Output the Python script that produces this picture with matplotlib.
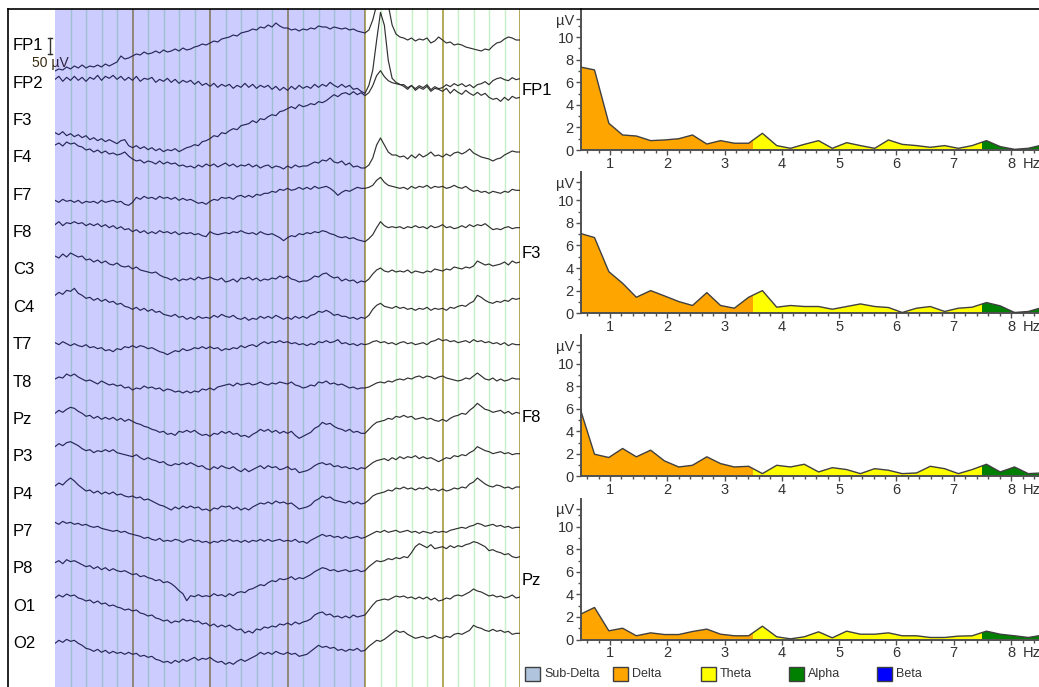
import numpy as np
import matplotlib
matplotlib.use("Agg")
import matplotlib.pyplot as plt
from matplotlib.lines import Line2D
from matplotlib.patches import Rectangle
from matplotlib.ticker import MultipleLocator
from matplotlib.transforms import blended_transform_factory

plt.rcParams['font.family'] = ['Liberation Sans', 'DejaVu Sans']

# ---------------------------------------------------------------------------
# EEG page: 6 s per page, 20 samples/s, values in µV relative to each baseline
# ---------------------------------------------------------------------------
channels = ['FP1', 'FP2', 'F3', 'F4', 'F7', 'F8', 'C3', 'C4', 'T7', 'T8',
            'Pz', 'P3', 'P4', 'P7', 'P8', 'O1', 'O2']

eeg_fp1 = [-75, -69, -72, -63, -69, -60, -66, -57, -66, -60, -63, -57, -63, -54, -60, -54, -48, -30, -39, -36,
           -30, -24, -27, -18, -24, -21, -15, -21, -12, -18, -15, -9, -15, -6, -12, -9, -3, 0, 6, 3,
           9, 15, 12, 21, 24, 27, 33, 30, 39, 42, 45, 51, 48, 57, 54, 63, 57, 69, 60, 54,
           54, 48, 51, 45, 51, 48, 54, 51, 60, 57, 57, 51, 57, 54, 51, 54, 48, 51, 45, 42,
           39, 48, 78, 123, 213, 198, 123, 63, 36, 27, 24, 18, 24, 15, 21, 18, 24, 9, 15, 27,
           18, 9, 12, 3, 6, 3, -3, -6, -9, -12, -15, -9, -12, 0, 9, 12, 21, 27, 24, 18, 18]
eeg_fp2 = [12, 21, 6, 18, 9, 21, 9, 18, 6, 18, 12, 24, 9, 21, 15, 24, 12, 21, 9, 18,
           9, 21, 6, 15, 12, 18, 3, 12, 6, 15, 3, 12, 0, 9, 3, 9, -3, 6, -6, 0,
           -9, 0, -12, -3, -9, -3, -15, -6, -12, 0, -12, -3, -15, -6, -12, -6, -18, -9, -21, -12,
           -21, -9, -18, -6, -15, -9, -15, -3, -12, -3, -9, 3, -6, -12, -3, -12, -6, -18, -15, -24,
           -30, -6, 39, 129, 213, 174, 69, 15, 3, -3, -9, -18, -6, -21, -12, -18, -9, -24, -15, -18,
           -24, -15, -30, -18, -27, -33, -21, -30, -36, -27, -36, -30, -42, -48, -45, -54, -42, -51, -39, -45, -42]
eeg_f3 = [-36, -42, -33, -45, -39, -48, -42, -51, -45, -57, -51, -60, -54, -63, -57, -63, -69, -60, -57, -75,
          -81, -75, -84, -78, -87, -81, -90, -84, -93, -87, -90, -84, -93, -87, -81, -78, -72, -75, -63, -60,
          -54, -45, -48, -36, -39, -30, -24, -27, -15, -12, -9, 0, -6, 6, 3, 12, 18, 15, 27, 30,
          36, 42, 36, 48, 42, 45, 51, 48, 57, 54, 60, 69, 78, 72, 81, 84, 78, 87, 78, 84,
          75, 84, 105, 135, 150, 132, 120, 114, 111, 108, 108, 99, 105, 96, 105, 99, 108, 93, 102, 96,
          99, 108, 102, 111, 105, 111, 102, 108, 99, 108, 111, 117, 108, 120, 126, 129, 123, 120, 129, 123, 126]
eeg_f4 = [39, 45, 36, 48, 42, 45, 36, 33, 24, 27, 18, 24, 15, 21, 12, 15, 9, 12, 18, 6,
          -3, -9, -6, -15, -9, -12, -18, -9, -18, -12, -18, -15, -24, -21, -27, -24, -30, -21, -27, -18,
          -24, -18, -27, -21, -15, -24, -18, -27, -21, -24, -18, -27, -21, -30, -24, -21, -30, -24, -27, -33,
          -24, -30, -21, -27, -24, -24, -18, -12, -15, -6, -9, 0, -12, -15, -9, -21, -15, -27, -24, -30,
          -30, -21, 0, 39, 60, 39, 18, 9, 9, 3, 6, -3, 9, 0, 12, 3, 9, 18, 6, 9,
          3, 12, 6, 15, 18, 12, 18, 27, 15, 9, 3, 0, -3, -9, -3, 0, 9, 15, 21, 18, 18]
eeg_f7 = [-15, -21, -12, -18, -15, -21, -15, -24, -18, -21, -18, -24, -15, -21, -18, -15, -21, -18, -27, -30,
          -21, -6, -12, -3, -9, -6, -12, -3, -9, -6, -12, -6, -15, -9, -15, -12, -18, -24, -21, -27,
          -18, -12, -15, -6, -9, -6, -12, -3, 0, -6, 0, -6, 3, 0, 6, 6, 12, 9, 18, 15,
          21, 15, 18, 24, 18, 24, 18, 27, 21, 24, 27, 21, 12, 0, 9, 15, 12, 18, 24, 21,
          21, 24, 30, 45, 54, 39, 30, 27, 24, 21, 24, 18, 27, 21, 27, 24, 30, 21, 27, 24,
          27, 21, 24, 30, 24, 21, 27, 18, 12, 15, 9, 12, 6, 12, 9, 6, 12, 9, 18, 15, 15]
eeg_f8 = [24, 33, 21, 30, 27, 33, 27, 30, 21, 27, 21, 27, 18, 24, 15, 21, 12, 18, 9, 12,
          3, 9, 0, 6, -3, 3, -3, 6, 0, 3, -3, 3, -6, 0, -3, 0, -6, -3, -9, -12,
          3, -3, -6, -3, 0, -3, 3, 0, 6, 0, -3, 0, -6, 3, -3, -6, -3, -9, -15, -24,
          -15, -9, -12, -3, -6, 0, -3, 3, 0, 6, 3, -3, -6, -12, -15, -12, -18, -15, -21, -24,
          -27, -18, -6, 15, 33, 21, 15, 18, 15, 18, 12, 18, 15, 21, 15, 18, 12, 21, 15, 18,
          24, 15, 18, 12, 15, 21, 15, 24, 18, 24, 21, 27, 18, 9, 12, 9, 15, 18, 12, 15, 15]
eeg_c3 = [42, 36, 48, 39, 51, 45, 39, 42, 30, 33, 24, 30, 21, 27, 18, 15, 21, 12, 9, 12,
          3, 9, 0, -3, -6, -9, -6, -15, -21, -24, -30, -24, -33, -27, -30, -24, -30, -21, -27, -24,
          -21, -27, -30, -24, -36, -33, -27, -36, -24, -27, -21, -30, -24, -33, -27, -30, -24, -27, -18, -24,
          -18, -27, -30, -36, -33, -33, -27, -18, -21, -12, -9, -18, -24, -21, -33, -27, -33, -30, -39, -33,
          -36, -27, -12, 0, 6, -3, -6, 0, -6, -3, -6, 0, -9, -3, -6, -9, -3, -6, 3, 0,
          -3, 3, 0, 9, 6, 3, 9, 6, 12, 27, 21, 15, 18, 12, 15, 18, 24, 15, 27, 21, 24]
eeg_c4 = [36, 45, 39, 51, 48, 57, 42, 36, 27, 30, 21, 27, 18, 24, 15, 18, 9, 12, 3, 0,
          -6, 0, -9, -3, -12, -6, -15, -12, -21, -24, -27, -21, -30, -27, -36, -30, -36, -27, -33, -30,
          -33, -24, -30, -21, -27, -30, -24, -33, -36, -30, -39, -33, -36, -27, -33, -27, -33, -24, -30, -36,
          -30, -36, -27, -33, -27, -33, -24, -21, -12, -15, -9, -15, -24, -21, -27, -27, -33, -30, -36, -30,
          -33, -24, -6, 6, 12, 3, 0, -3, 3, -3, 0, -6, -3, -9, -3, -6, 0, -9, -3, -6,
          -3, -9, 0, -3, 3, 6, 3, 12, 18, 36, 30, 21, 15, 12, 18, 15, 21, 18, 27, 24, 27]
eeg_t7 = [6, 0, 9, 3, -3, 3, -3, -6, 0, -9, -6, -12, -9, -18, -15, -21, -12, -15, -6, -9,
          -3, -9, -3, -6, -12, -9, -15, -21, -24, -30, -24, -18, -21, -12, -18, -15, -9, -12, -6, -12,
          -6, -12, -9, -18, -12, -15, -9, -12, -3, -9, -3, 0, -6, 3, 9, 3, 9, 6, 12, 6,
          9, 3, 6, 0, 3, -3, 3, 0, 9, 6, 12, 6, 9, 15, 3, 6, 0, 3, -3, 3,
          0, 3, 9, 12, 6, 9, 3, 6, 0, 6, 9, 3, 6, 0, 3, 6, 0, 9, 12, 18,
          12, 15, 9, 12, 6, 9, 12, 6, 15, 9, 12, 6, 9, 3, 6, 0, 6, -3, 3, 0, 0]
eeg_t8 = [9, 15, 12, 24, 18, 24, 15, 9, 3, 6, 0, -6, 3, -3, -9, -6, -12, -9, -18, -15,
          -24, -18, -21, -12, -18, -15, -21, -18, -27, -21, -24, -30, -27, -33, -27, -33, -27, -30, -21, -24,
          -18, -24, -15, -12, -9, -6, -12, -3, -9, -6, -3, -9, -6, 0, -6, -9, -3, -6, 0, -3,
          -6, 0, -9, -12, -18, -15, -9, -12, 0, -3, 3, -6, -3, -9, -6, -12, -18, -15, -21, -18,
          -18, -15, -9, -3, 0, -3, 3, 0, 6, 9, 6, 12, 9, 15, 18, 12, 18, 15, 9, 15,
          18, 12, 9, 6, 3, 6, 12, 9, 18, 27, 18, 9, 6, 12, 3, 9, 3, 6, 12, 9, 9]
eeg_pz = [18, 27, 21, 30, 36, 33, 24, 18, 9, 12, 3, 9, 0, 6, 0, 6, -3, 3, -6, 0,
          -6, -12, -15, -21, -24, -30, -33, -39, -36, -45, -42, -48, -36, -39, -33, -39, -33, -42, -48, -45,
          -51, -42, -45, -36, -42, -36, -45, -42, -51, -48, -54, -45, -39, -30, -36, -30, -39, -33, -42, -36,
          -42, -36, -48, -57, -51, -45, -39, -27, -21, -9, -15, -12, -21, -27, -30, -36, -30, -39, -36, -42,
          -42, -30, -18, -9, -6, -3, 3, 0, 9, 6, 12, 6, 9, 0, 3, 6, 0, 3, -3, -6,
          0, -6, 3, 9, 12, 18, 15, 27, 36, 48, 39, 30, 27, 21, 24, 27, 18, 24, 15, 21, 18]
eeg_p3 = [30, 39, 33, 42, 45, 39, 33, 24, 18, 21, 12, 18, 15, 21, 15, 21, 12, 9, 6, 3,
          0, 6, -3, -9, -3, -9, -12, -18, -15, -24, -27, -21, -24, -18, -24, -18, -24, -30, -27, -36,
          -39, -30, -36, -27, -33, -36, -30, -39, -45, -36, -45, -39, -33, -27, -36, -27, -33, -30, -39, -36,
          -30, -39, -36, -48, -45, -42, -36, -27, -21, -18, -24, -21, -30, -27, -33, -30, -36, -33, -39, -33,
          -36, -27, -18, -12, -9, -6, -12, -3, -9, 0, -6, 0, -3, 3, -6, 0, -6, -3, -9, -15,
          -9, -3, -6, 3, 0, 6, 3, 12, 18, 30, 24, 18, 15, 9, 12, 15, 9, 12, 6, 9, 9]
eeg_p4 = [24, 33, 27, 39, 48, 39, 27, 18, 9, 12, 3, 9, 0, 6, 0, 6, -3, 0, -6, -9,
          -6, -12, -9, -18, -15, -21, -27, -33, -36, -42, -48, -39, -45, -36, -42, -36, -42, -39, -48, -45,
          -51, -42, -45, -36, -39, -36, -45, -39, -48, -42, -48, -39, -33, -27, -30, -24, -30, -21, -27, -24,
          -30, -27, -36, -45, -42, -39, -33, -21, -15, -6, -12, -9, -18, -21, -24, -27, -21, -30, -24, -30,
          -27, -18, -6, 0, 3, 6, 12, 9, 18, 15, 21, 15, 18, 12, 18, 15, 21, 12, 15, 9,
          15, 9, 12, 18, 15, 21, 18, 30, 36, 48, 39, 30, 24, 21, 27, 24, 18, 21, 15, 21, 21]
eeg_p7 = [27, 21, 30, 24, 27, 21, 24, 18, 21, 15, 12, 15, 9, 6, 3, 0, 3, -3, 0, -6,
          -9, -12, -15, -21, -18, -24, -27, -21, -30, -27, -30, -24, -27, -33, -27, -24, -30, -27, -33, -30,
          -36, -30, -33, -27, -30, -24, -30, -27, -33, -27, -33, -27, -30, -24, -30, -24, -30, -27, -24, -30,
          -27, -30, -24, -33, -30, -36, -27, -21, -15, -9, -15, -12, -18, -15, -21, -15, -21, -18, -15, -21,
          -18, -12, -6, 0, -3, 3, -3, 0, 3, -3, 0, 3, -3, 0, -6, 0, -3, -6, 0, -3,
          0, -3, 3, 6, 9, 12, 9, 15, 18, 24, 21, 15, 18, 21, 15, 18, 12, 15, 9, 12, 12]
eeg_p8 = [18, 24, 15, 27, 21, 24, 18, 12, 6, 9, 0, 6, -3, 3, -6, 0, -6, -9, -6, -12,
          -18, -15, -24, -21, -27, -30, -36, -33, -42, -39, -45, -54, -66, -75, -96, -81, -84, -78, -84, -81,
          -84, -75, -81, -78, -84, -75, -81, -72, -69, -72, -63, -60, -54, -48, -51, -42, -36, -39, -30, -33,
          -30, -24, -33, -27, -30, -24, -18, -9, -3, 3, 0, -6, -3, -9, -6, -3, -9, -6, -3, -9,
          -6, 6, 15, 24, 21, 24, 30, 27, 33, 30, 36, 33, 48, 66, 75, 69, 63, 72, 60, 63,
          66, 60, 69, 63, 69, 66, 72, 75, 81, 78, 72, 66, 54, 57, 51, 48, 42, 45, 36, 33, 36]
eeg_o1 = [24, 33, 27, 36, 30, 33, 24, 21, 15, 18, 9, 15, 6, 9, 0, 3, -3, -6, -12, -9,
          -15, -12, -21, -24, -30, -27, -36, -39, -45, -42, -51, -45, -48, -39, -45, -42, -48, -45, -54, -51,
          -60, -54, -63, -57, -63, -57, -66, -72, -69, -81, -75, -81, -69, -72, -63, -66, -60, -63, -54, -57,
          -51, -57, -48, -54, -48, -45, -39, -27, -21, -18, -27, -24, -33, -30, -36, -30, -36, -27, -33, -30,
          -27, -12, 3, 15, 18, 21, 18, 24, 30, 27, 30, 24, 27, 21, 27, 21, 27, 18, 24, 15,
          18, 24, 21, 30, 33, 30, 36, 42, 51, 45, 42, 36, 30, 33, 27, 30, 24, 27, 33, 24, 27]
eeg_o2 = [0, 9, 3, 12, 6, 9, 0, -6, -15, -18, -24, -18, -27, -21, -30, -24, -30, -27, -33, -27,
          -33, -30, -39, -36, -42, -39, -48, -51, -57, -54, -60, -51, -57, -48, -54, -48, -42, -51, -45, -48,
          -42, -51, -57, -54, -63, -57, -63, -54, -48, -54, -48, -42, -36, -27, -33, -27, -33, -24, -30, -33,
          -27, -33, -30, -39, -36, -33, -24, -15, -6, -12, -9, -15, -12, -21, -18, -24, -18, -21, -15, -24,
          -21, -9, 0, 9, 6, 12, 21, 30, 39, 33, 36, 27, 21, 15, 18, 21, 15, 18, 24, 18,
          15, 21, 18, 27, 30, 27, 33, 39, 54, 48, 45, 39, 36, 42, 36, 39, 33, 36, 27, 30, 30]

eeg = [eeg_fp1, eeg_fp2, eeg_f3, eeg_f4, eeg_f7, eeg_f8, eeg_c3, eeg_c4, eeg_t7,
       eeg_t8, eeg_pz, eeg_p3, eeg_p4, eeg_p7, eeg_p8, eeg_o1, eeg_o2]

PAGE_SECONDS = 6
SELECTED_UNTIL = 4          # shaded analysis window (s)
CH_SPACING = 112            # µV between channel baselines
SCALE_UV = 50

# ---------------------------------------------------------------------------
# Amplitude spectra of the selected window (µV), 0.244 Hz bins
# ---------------------------------------------------------------------------
freqs = [0.49, 0.73, 0.98, 1.22, 1.46, 1.71, 1.95, 2.20, 2.44, 2.69, 2.93, 3.17,
         3.42, 3.66, 3.91, 4.15, 4.39, 4.64, 4.88, 5.13, 5.37, 5.62, 5.86, 6.10,
         6.35, 6.59, 6.84, 7.08, 7.32, 7.57, 7.81, 8.06, 8.30, 8.54]
spec_fp1 = [7.35, 7.10, 2.37, 1.33, 1.24, 0.83, 0.89, 1.00, 1.33, 0.53, 0.83, 0.60,
            0.60, 1.48, 0.39, 0.15, 0.50, 0.83, 0.15, 0.65, 0.39, 0.15, 0.89, 0.50,
            0.39, 0.24, 0.39, 0.15, 0.39, 0.83, 0.30, 0.06, 0.15, 0.44]
spec_f3 = [7.06, 6.70, 3.68, 2.65, 1.41, 2.00, 1.53, 1.03, 0.68, 1.82, 0.68, 0.44,
           1.41, 2.00, 0.53, 0.68, 0.59, 0.59, 0.35, 0.59, 0.82, 0.59, 0.50, 0.06,
           0.44, 0.59, 0.15, 0.44, 0.53, 0.94, 0.65, 0.06, 0.15, 0.50]
spec_f8 = [5.83, 1.96, 1.67, 2.47, 1.73, 2.32, 1.37, 0.83, 0.98, 1.73, 1.13, 0.83,
           0.89, 0.24, 0.98, 0.83, 1.07, 0.39, 0.77, 0.60, 0.24, 0.68, 0.54, 0.24,
           0.30, 0.89, 0.68, 0.24, 0.60, 1.07, 0.39, 0.83, 0.24, 0.30]
spec_pz = [2.25, 2.84, 0.77, 1.00, 0.33, 0.59, 0.44, 0.44, 0.71, 0.92, 0.47, 0.33,
           0.33, 1.18, 0.24, 0.06, 0.24, 0.68, 0.15, 0.74, 0.47, 0.47, 0.59, 0.33,
           0.33, 0.18, 0.18, 0.30, 0.33, 0.74, 0.47, 0.33, 0.18, 0.38]
spec_names = ['FP1', 'F3', 'F8', 'Pz']
spectra = [spec_fp1, spec_f3, spec_f8, spec_pz]

bands = ['Sub-Delta', 'Delta', 'Theta', 'Alpha', 'Beta']
band_edges = [0.0, 0.5, 3.5, 7.5, 12.5, 30.0]
band_colors = ['#b0c4de', '#ffa500', '#ffff00', '#008000', '#0000ff']

# ---------------------------------------------------------------------------
W, H = 1039, 687
fig = plt.figure(figsize=(W / 100, H / 100), dpi=100)


def px_box(x0, y0, x1, y1):
    return [x0 / W, 1 - y1 / H, (x1 - x0) / W, (y1 - y0) / H]


# window frame
fig.add_artist(Line2D([8 / W, 1], [1 - 9 / H, 1 - 9 / H], color='black', lw=1.2,
                      transform=fig.transFigure))
fig.add_artist(Line2D([8 / W, 8 / W], [0, 1 - 9 / H], color='black', lw=1.2,
                      transform=fig.transFigure))

# ---- EEG traces ----
ax = fig.add_axes(px_box(55, 9, 520, 687))
ax.set_xlim(0, PAGE_SECONDS)
ax.set_ylim(-(687 - 46) * 3, (46 - 9) * 3)
ax.set_axis_off()

for t in np.arange(0.2, PAGE_SECONDS + 0.01, 0.2):
    if abs(t - round(t)) < 1e-6:
        ax.axvline(t, color='#a89a3c', lw=1.2, zorder=1)
    else:
        ax.axvline(t, color='#c6f0c6', lw=1.0, zorder=1)

lab_tr = blended_transform_factory(ax.transAxes, ax.transData)
for k, (name, vals) in enumerate(zip(channels, eeg)):
    base = -k * CH_SPACING
    t = np.linspace(0, PAGE_SECONDS, len(vals))
    ax.plot(t, base + np.array(vals), color='#303030', lw=0.85, zorder=3)
    ax.text(-0.0905, base, name, transform=lab_tr, ha='left', va='center',
            fontsize=12, color='black', clip_on=False)

# selected analysis window
ax.axvspan(0, SELECTED_UNTIL, facecolor='#0000ff', alpha=0.2, lw=0, zorder=5)

# calibration bar next to FP1
xb, cap = -0.065, 0.03
ax.plot([xb, xb], [-SCALE_UV / 2, SCALE_UV / 2], color='#333333', lw=1.0, clip_on=False)
for yy in (-SCALE_UV / 2, SCALE_UV / 2):
    ax.plot([xb - cap, xb + cap], [yy, yy], color='#333333', lw=1.0, clip_on=False)
ax.text(xb, -51, f'{SCALE_UV} µV', ha='center', va='center', fontsize=10,
        color='#3a2a10', clip_on=False, zorder=4)

# ---- spectra ----
for k, (name, vals) in enumerate(zip(spec_names, spectra)):
    bottom = 150 + 163.17 * k
    sax = fig.add_axes(px_box(580.7, bottom - 141, W, bottom))
    sax.set_xlim(0.489, 8.487)
    sax.set_ylim(0, 12.5)
    sax.patch.set_alpha(0)

    for lo, hi, col in zip(band_edges[:-1], band_edges[1:], band_colors):
        poly = sax.fill_between(freqs, vals, 0, facecolor=col, lw=0, zorder=2)
        clip = Rectangle((lo, 0), hi - lo, 20, transform=sax.transData)
        poly.set_clip_path(clip)
    sax.plot(freqs, vals, color='#404040', lw=1.0, zorder=3)

    for side in ('top', 'right'):
        sax.spines[side].set_visible(False)
    for side in ('left', 'bottom'):
        sax.spines[side].set_color('#505050')
        sax.spines[side].set_linewidth(1.4)

    sax.set_yticks([0, 2, 4, 6, 8, 10, 11.6])
    sax.set_yticklabels(['0', '2', '4', '6', '8', '10', 'µV'])
    sax.set_yticks(np.arange(1, 12, 2), minor=True)
    sax.set_xticks(range(1, 9))
    sax.xaxis.set_minor_locator(MultipleLocator(0.2))
    sax.tick_params(which='major', length=3.5, width=1, color='#505050',
                    labelsize=10.5, labelcolor='#333333', pad=1.5)
    sax.tick_params(which='minor', length=2, width=1, color='#505050')
    sax.annotate('Hz', xy=(8.36, 0), xycoords=('data', 'axes fraction'),
                 xytext=(0, -4.9), textcoords='offset points', ha='center', va='top',
                 fontsize=10.5, color='#333333', annotation_clip=False)
    sax.text(-0.128, 0.42, name, transform=sax.transAxes, ha='left', va='center',
             fontsize=12, color='black')

# ---- band legend ----
for i, (name, col) in enumerate(zip(bands, band_colors)):
    x0 = 525 + 88 * i
    fig.add_artist(Rectangle((x0 / W, 1 - 681 / H), 15 / W, 14 / H, facecolor=col,
                             edgecolor='#404040', lw=1.0, transform=fig.transFigure))
    fig.text((x0 + 19) / W, 1 - 674 / H, name, ha='left', va='center', fontsize=9,
             color='#333333')

fig.savefig('out.png', dpi=100)
